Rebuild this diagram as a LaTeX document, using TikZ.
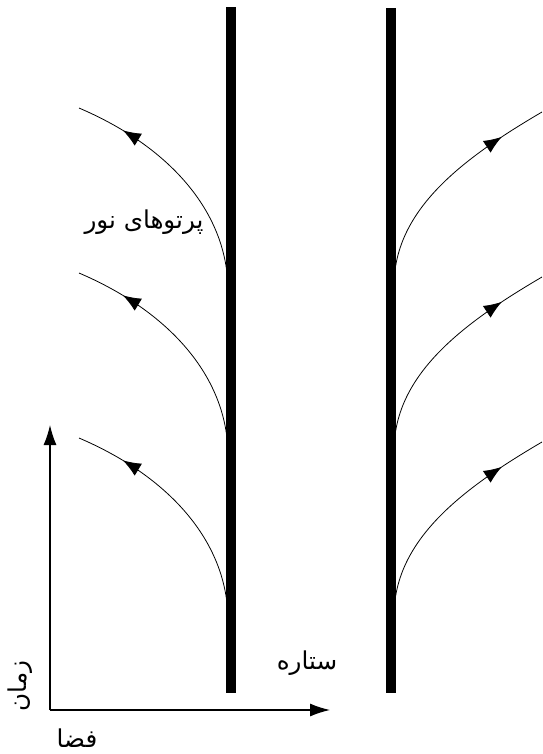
\documentclass[tikz,border=0pt]{standalone}
\usepackage{fontspec}
\newfontfamily\farsi[Script=Arabic]{DejaVu Sans}
\TeXXeTstate=1
\usetikzlibrary{arrows.meta,decorations.markings}

\begin{document}
\begin{tikzpicture}[x=0.02cm,y=-0.02cm,>={Latex[length=3.6mm,width=2.8mm]},
  ray/.style={line width=0.45pt,postaction={decorate},
    decoration={markings,mark=at position 0.8 with {\arrow{>}}}},
  starline/.style={line width=5.6pt},
  axis/.style={line width=0.7pt,-{Latex[length=4mm,width=2.6mm]}},
  lbl/.style={font=\farsi\fontsize{14}{16}\selectfont,inner sep=0pt}]
  \useasboundingbox (0,0) rectangle (542,754);

  % ---- light rays leaving the two stars --------------------------------
  \foreach \dy in {0,165,330}{
    \draw[ray] (228,617-\dy) .. controls (226,540-\dy) and (168,476-\dy) .. (79,438-\dy);
    \draw[ray] (394,613-\dy) .. controls (396,540-\dy) and (460,490-\dy) .. (542,442-\dy);
  }

  % ---- world lines of the star surface ---------------------------------
  \draw[starline] (231,7) -- (231,693);
  \draw[starline] (391,8) -- (391,693);

  % ---- axes -------------------------------------------------------------
  \coordinate (origin) at (50,710);
  \coordinate (xend) at (330,710);
  \coordinate (yend) at (50,425);
  \draw[axis] (origin) -- (xend);
  \draw[axis] (origin) -- (yend);

  % ---- labels -----------------------------------------------------------
  \node[lbl] (rays) at (144,222) {\beginR پرتوهای نور\endR};
  \node[lbl] (starlbl) at (307,663) {\beginR ستاره\endR};
  \node[lbl] (space) at (77,738) {\beginR فضا\endR};
  \node[lbl,rotate=90] (time) at (20,686) {\beginR زمان\endR};
\end{tikzpicture}
\end{document}
